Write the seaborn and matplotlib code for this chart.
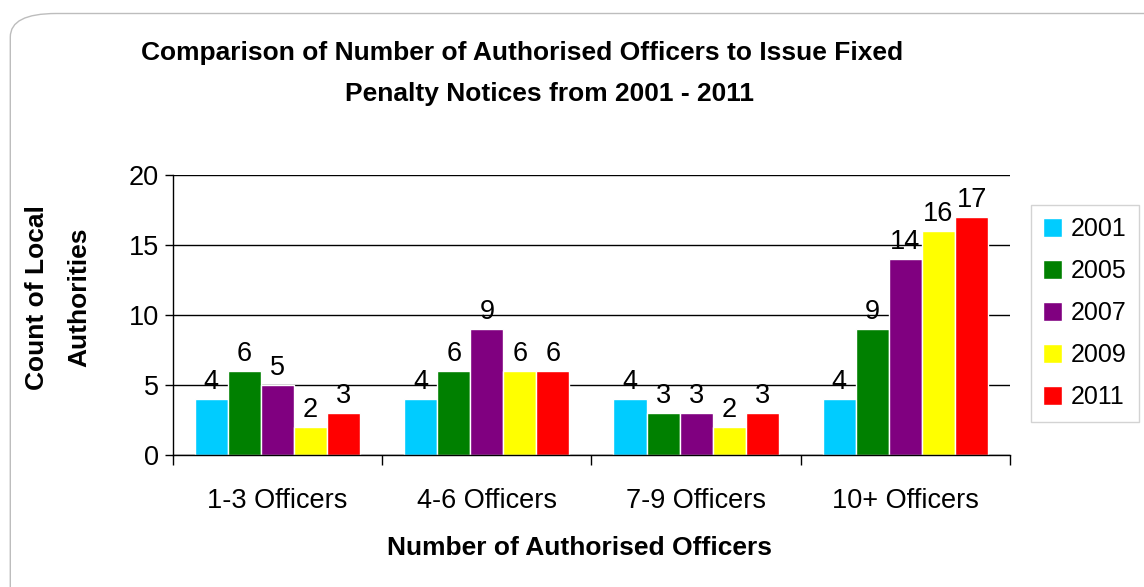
import matplotlib
matplotlib.use('Agg')
import matplotlib.pyplot as plt
import pandas as pd
import seaborn as sns
from matplotlib.patches import FancyBboxPatch

categories = ['1-3 Officers', '4-6 Officers', '7-9 Officers', '10+ Officers']
years = ['2001', '2005', '2007', '2009', '2011']
counts = {
    '2001': [4, 4, 4, 4],
    '2005': [6, 6, 3, 9],
    '2007': [5, 9, 3, 14],
    '2009': [2, 6, 2, 16],
    '2011': [3, 6, 3, 17],
}
colors = ['#00CCFF', '#008000', '#800080', '#FFFF00', '#FF0000']

rows = []
for year in years:
    for cat, v in zip(categories, counts[year]):
        rows.append({'category': cat, 'year': year, 'count': v})
df = pd.DataFrame(rows)

sns.set_style('white')
plt.rcParams['font.family'] = ['Liberation Sans', 'DejaVu Sans']
plt.rcParams['text.color'] = 'black'
plt.rcParams['axes.labelcolor'] = 'black'
plt.rcParams['xtick.color'] = 'black'
plt.rcParams['ytick.color'] = 'black'

fig = plt.figure(figsize=(11.44, 5.87), dpi=100)
ax = fig.add_axes([0.151, 0.2249, 0.732, 0.477])

sns.barplot(data=df, x='category', y='count', hue='year', palette=colors,
            width=0.79, gap=0, ax=ax, legend=True, saturation=1)

for container in ax.containers:
    ax.bar_label(container, fontsize=19.5, padding=3, color='black')

ax.set_ylim(0, 20)
ax.set_xlim(-0.5, 3.5)
ax.set_yticks([0, 5, 10, 15, 20])
ax.yaxis.grid(True, color='black', linewidth=1)
ax.set_axisbelow(True)
ax.tick_params(axis='y', labelsize=19.5, length=6, width=1, color='black',
               direction='out', left=True, pad=4)
ax.tick_params(axis='x', labelsize=19.5, length=0, pad=24)
ax.set_xticks([-0.5, 0.5, 1.5, 2.5, 3.5], minor=True)
ax.tick_params(axis='x', which='minor', length=7, width=1, color='black',
               direction='out', bottom=True)
for s in ['top', 'right']:
    ax.spines[s].set_visible(False)
ax.spines['left'].set_color('black')
ax.spines['bottom'].set_color('black')
ax.spines['left'].set_linewidth(1)
ax.spines['bottom'].set_linewidth(1)

ax.set_xlabel('Number of Authorised Officers', fontsize=19, fontweight='bold')
ax.xaxis.set_label_coords(0.486, -0.29)
ax.set_ylabel('Count of Local\nAuthorities', fontsize=19, fontweight='bold',
              linespacing=2.0)
ax.yaxis.set_label_coords(-0.097, 0.564)

handles, labels = ax.get_legend_handles_labels()
ax.legend(handles, labels, loc='upper left', bbox_to_anchor=(0.901, 0.651),
          bbox_transform=fig.transFigure, fontsize=18, frameon=True,
          edgecolor='#C8C8C8', fancybox=False, handlelength=0.75,
          handleheight=0.75, labelspacing=0.72, handletextpad=0.35,
          borderpad=0.5, borderaxespad=0)

fig.text(0.456, 0.91, 'Comparison of Number of Authorised Officers to Issue Fixed',
         ha='center', va='center', fontsize=19, fontweight='bold')
fig.text(0.480, 0.84, 'Penalty Notices from 2001 - 2011',
         ha='center', va='center', fontsize=19, fontweight='bold')

border = FancyBboxPatch((0.009, -0.05), 1.05, 1.027,
                        boxstyle='round,pad=0,rounding_size=0.04',
                        transform=fig.transFigure, fill=False,
                        edgecolor='#BDBDBD', linewidth=1)
fig.patches.append(border)

fig.savefig('out.png', dpi=100)
